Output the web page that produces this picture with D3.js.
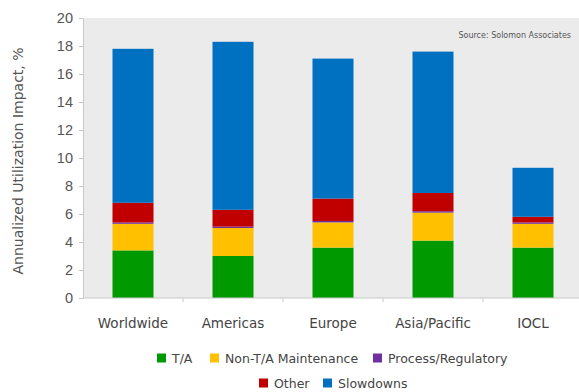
<!DOCTYPE html>
<html>
<head>
<meta charset="utf-8">
<script src="https://cdn.jsdelivr.net/npm/d3@7"></script>
<style>
  body { margin: 0; background: #fff; }
  svg { display: block; font-family: Verdana, "DejaVu Sans", sans-serif; }
</style>
</head>
<body>
<div id="chart"></div>
<script>
// ── Data ──
const regions = ["Worldwide", "Americas", "Europe", "Asia/Pacific", "IOCL"];
const seriesNames = ["T/A", "Non-T/A Maintenance", "Process/Regulatory", "Other", "Slowdowns"];
const ta = [3.4, 3.0, 3.6, 4.1, 3.6];
const nonTa = [1.9, 2.0, 1.8, 2.0, 1.7];
const process = [0.1, 0.1, 0.1, 0.1, 0.1];
const other = [1.4, 1.2, 1.6, 1.3, 0.4];
const slowdowns = [11.0, 12.0, 10.0, 10.1, 3.5];
const yTicks = [0, 2, 4, 6, 8, 10, 12, 14, 16, 18, 20];

const colors = ["#009a00", "#ffc000", "#7030a0", "#c00000", "#0070c0"];

const W = 579, H = 392;
const M = { t: 18, r: -4, b: 94, l: 83 };
const w = W - M.l - M.r;
const h = H - M.t - M.b;

const table = regions.map((r, i) => ({
  region: r,
  "T/A": ta[i],
  "Non-T/A Maintenance": nonTa[i],
  "Process/Regulatory": process[i],
  "Other": other[i],
  "Slowdowns": slowdowns[i],
}));

const svg = d3.select("#chart").append("svg").attr("width", W).attr("height", H);
const g = svg.append("g").attr("transform", `translate(${M.l},${M.t})`);

const x = d3.scaleBand().domain(regions).range([0, w]).paddingInner(0.59).paddingOuter(0.295);
const y = d3.scaleLinear().domain([0, 20]).range([h, 0]);

// plot background
g.append("rect").attr("x", 0).attr("y", 0).attr("width", w).attr("height", h).attr("fill", "#ebebeb");

// ── Stacks ──
const stack = d3.stack().keys(seriesNames)(table);
g.selectAll(".layer")
  .data(stack)
  .enter()
  .append("g")
  .attr("fill", (d, i) => colors[i])
  .selectAll("rect")
  .data((d) => d)
  .enter()
  .append("rect")
  .attr("x", (d) => x(d.data.region))
  .attr("width", x.bandwidth())
  .attr("y", (d) => y(d[1]))
  .attr("height", (d) => y(d[0]) - y(d[1]));

// ── Axes ──
const yAxis = g.append("g")
  .call(d3.axisLeft(y).tickValues(yTicks).tickSize(4).tickPadding(6));
yAxis.selectAll("text").attr("fill", "#555").style("font-size", "14.5px");
yAxis.selectAll("line, .domain").attr("stroke", "#c8c8c8");

const xAxis = g.append("g").attr("transform", `translate(0,${h})`);
xAxis.append("line").attr("x1", 0).attr("x2", w).attr("stroke", "#c8c8c8");
// category separator ticks
xAxis.selectAll(".sep")
  .data(regions.slice(1))
  .enter()
  .append("line")
  .attr("x1", (d) => x(d) - x.step() * x.paddingInner() / 2)
  .attr("x2", (d) => x(d) - x.step() * x.paddingInner() / 2)
  .attr("y1", 0)
  .attr("y2", 4)
  .attr("stroke", "#c8c8c8");
xAxis.selectAll(".lbl")
  .data(regions)
  .enter()
  .append("text")
  .attr("x", (d) => x(d) + x.bandwidth() / 2)
  .attr("y", 30)
  .attr("text-anchor", "middle")
  .attr("fill", "#444")
  .style("font-size", "13.5px")
  .text((d) => d);

// y title
svg.append("text")
  .attr("transform", `translate(23,161) rotate(-90)`)
  .attr("text-anchor", "middle")
  .attr("fill", "#555")
  .style("font-size", "14px")
  .text("Annualized Utilization Impact, %");

// source note
svg.append("text")
  .attr("x", 571)
  .attr("y", 38)
  .attr("text-anchor", "end")
  .attr("fill", "#555")
  .style("font-size", "8px")
  .text("Source: Solomon Associates");

// ── Legend ──
const legendRows = [
  [0, 1, 2],
  [3, 4],
];
const legendX = [[157, 210, 373], [259, 323]];
const legendY = [358, 383];
legendRows.forEach((row, ri) => {
  row.forEach((si, k) => {
    const lg = svg.append("g").attr("transform", `translate(${legendX[ri][k]},${legendY[ri]})`);
    lg.append("rect").attr("x", 0).attr("y", -4.5).attr("width", 9).attr("height", 9).attr("fill", colors[si]);
    lg.append("text")
      .attr("x", 15)
      .attr("y", 4.5)
      .attr("fill", "#444")
      .style("font-size", "12.5px")
      .text(seriesNames[si]);
  });
});
</script>
</body>
</html>
